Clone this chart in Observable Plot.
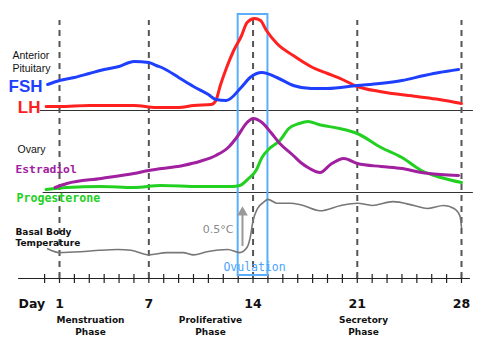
<!DOCTYPE html>
<html><head><meta charset="utf-8">
<script src="https://cdn.jsdelivr.net/npm/d3@7"></script>
<script src="https://cdn.jsdelivr.net/npm/@observablehq/plot@0.6"></script>
<style>body{margin:0;background:#fff} svg{display:block}</style>
</head><body><div id="chart"></div>
<script>
// ---- data (cycle day, relative level) ----
const fshDays   = [0.2,1,2,3,4,5,6,7,7.5,8,9,10,11,11.5,12.2,13.2,13.8,14.6,15.6,16.7,17.9,19,21,22.5,24,25.5,26.5,27.8];
const fshLevels = [26,30,33,37,41,44,49,48,45,42,33,24,16,11,10,23,33,38,33,25,22,22,25,27,30,35,38,41];

const lhDays   = [0.1,1,3,6,7.5,9,10,11.2,11.5,11.8,12.2,12.7,13.2,13.6,14.1,14.5,14.9,15.6,16.7,18,19,20,21,22.5,25,26.5,28];
const lhLevels = [4,4,5,5,3,3,5,6,10,25,42,60,74,88,92,90,80,67,55,43,37,31,24,19,14,11,7];

const e2Days   = [0.7,1.5,3.8,6,7,9.3,10.4,11.5,12.4,12.9,13.6,14,14.6,15.2,15.8,16.7,17.2,17.8,18.5,19.2,20.1,21,22.6,24,25.3,26.6,27.8];
const e2Levels = [5,9,14,19,22,27,31,37,46,55,70,74,70,60,49,37,30,24,20,28,34,29,26,24,20,18,17];

const p4Days   = [0.1,1.5,3.8,6,7.8,10.4,12.6,13.1,13.7,14.2,14.6,15.1,15.8,16.4,17.1,17.7,18.4,19.8,21,22.6,24,25.3,26.6,28];
const p4Levels = [3,5,6,5,7,6,6,7,14,22,35,44,52,64,69,71,68,64,59,45,35,22,15,10];

const bbtDays  = [0.2,1,2.4,3.7,4.9,5.8,7,8.2,9.3,10,10.9,12.3,13.1,13.6,13.8,14,14.3,14.7,15,15.6,16.5,17.2,18.5,19.9,21,22,23.4,24.8,25.7,26.8,27.5,27.9,28];
const bbtTemps = [36.37,36.32,36.33,36.35,36.36,36.35,36.29,36.32,36.32,36.29,36.33,36.36,36.32,36.39,36.51,36.74,36.90,36.98,37.02,36.97,36.97,36.95,36.87,36.94,36.97,36.94,36.99,36.94,36.90,36.94,36.90,36.80,36.65];

const tickDays   = d3.range(0, 29);
const labelDays  = [1, 7, 14, 21, 28];
const phases     = [{day: 3.08, name: "Menstruation"}, {day: 11.14, name: "Proliferative"}, {day: 21.42, name: "Secretory"}];
const ovulation  = {start: 13, end: 15};

// ---- layout (stacked panels on one vertical scale) ----
const base = {pit: 235, ova: 153, axis: 67};
const cycleTop = 325;
const tempRef = 36.4, tempScale = 76, tempBase = 99;
const tY = t => tempBase + (t - tempRef) * tempScale;

const zipS = (days, vals) => days.map((d, i) => ({day: d, v: vals[i]}));
const fsh = zipS(fshDays, fshLevels), lh = zipS(lhDays, lhLevels);
const e2 = zipS(e2Days, e2Levels), p4 = zipS(p4Days, p4Levels);
const bbt = zipS(bbtDays, bbtTemps);

const sans = "Liberation Sans, Arial, sans-serif";
const dv = "DejaVu Sans, sans-serif";
const mono = "DejaVu Sans Mono, monospace";

const chart = Plot.plot({
  width: 480, height: 345,
  marginLeft: 59, marginRight: 19, marginTop: 0, marginBottom: 0,
  x: {domain: [1, 28], axis: null},
  y: {domain: [0, 345], axis: null},
  style: {background: "white", overflow: "visible"},
  marks: [
    Plot.ruleY([{y: base.pit, x1: -0.3, x2: 28.8}, {y: base.ova, x1: -0.1, x2: 28.8}],
      {y: "y", x1: "x1", x2: "x2", stroke: "#333", strokeWidth: 1}),
    Plot.ruleY([base.axis], {x1: -1.75, x2: 28.6, stroke: "#222", strokeWidth: 1.2}),
    Plot.ruleX(tickDays, {x: d => d, y1: base.axis + 4, y2: base.axis - 5, stroke: "#222", strokeWidth: 1.2}),
    Plot.ruleX(labelDays, {x: d => d, y1: base.axis, y2: cycleTop, stroke: "#555", strokeWidth: 2, strokeDasharray: "6,5"}),
    Plot.rect([ovulation], {x1: "start", x2: "end", y1: () => 70, y2: () => 331, fill: "none", stroke: "#5aaefa", strokeWidth: 2}),
    Plot.line(bbt, {x: "day", y: d => tY(d.v), stroke: "#777", strokeWidth: 1.6, curve: "monotone-x"}),
    Plot.ruleX([13.29], {x: d => d, y1: tY(tempRef), y2: tY(tempRef + 0.5) - 6, stroke: "#999", strokeWidth: 2}),
    Plot.dot([13.29], {x: d => d, y: () => tY(tempRef + 0.5) - 4, symbol: "triangle", r: 4, fill: "#999"}),
    Plot.line(p4, {x: "day", y: d => base.ova + d.v, stroke: "#22d022", strokeWidth: 3, curve: "monotone-x"}),
    Plot.line(e2, {x: "day", y: d => base.ova + d.v, stroke: "#a020a0", strokeWidth: 3, curve: "monotone-x"}),
    Plot.line(lh, {x: "day", y: d => base.pit + d.v, stroke: "#ff2020", strokeWidth: 3, curve: "monotone-x"}),
    Plot.line(fsh, {x: "day", y: d => base.pit + d.v, stroke: "#1f3fff", strokeWidth: 3, curve: "monotone-x"}),
    // labels
    Plot.text(["Anterior", "Pituitary"], {x: -2.16, y: (d, i) => 290 - i * 13, text: d => d, textAnchor: "start", fontFamily: sans, fontSize: 10.5, fill: "#111"}),
    Plot.text(["FSH"], {x: -0.14, y: 259, text: d => d, textAnchor: "end", fontFamily: sans, fontSize: 17, fontWeight: "bold", fill: "#1f3fff"}),
    Plot.text(["LH"], {x: -0.28, y: 238, text: d => d, textAnchor: "end", fontFamily: sans, fontSize: 17, fontWeight: "bold", fill: "#ff2020"}),
    Plot.text(["Ovary"], {x: -1.82, y: 196, text: d => d, textAnchor: "start", fontFamily: sans, fontSize: 10.5, fill: "#111"}),
    Plot.text(["Estradiol"], {x: -1.955, y: 176, text: d => d, textAnchor: "start", fontFamily: mono, fontSize: 11.3, fontWeight: "bold", fill: "#a020a0"}),
    Plot.text(["Progesterone"], {x: -1.89, y: 147, text: d => d, textAnchor: "start", fontFamily: mono, fontSize: 11.6, fontWeight: "bold", fill: "#22d022"}),
    Plot.text(["Basal Body", "Temperature"], {x: -1.955, y: (d, i) => 113 - i * 11, text: d => d, textAnchor: "start", fontFamily: dv, fontSize: 9, fontWeight: "bold", fill: "#111"}),
    Plot.text(["0.5°C"], {x: 12.69, y: 116, text: d => d, textAnchor: "end", fontFamily: dv, fontSize: 11, fill: "#8a8a8a"}),
    Plot.text(["Ovulation"], {x: 14.1, y: 78, text: d => d, fontFamily: mono, fontSize: 11.5, fill: "#4aa3ff"}),
    Plot.text(["Day"], {x: -1.75, y: 42, text: d => d, textAnchor: "start", fontFamily: dv, fontSize: 12.5, fontWeight: "bold", fill: "#111"}),
    Plot.text(labelDays, {x: d => d, y: 42, text: d => String(d), fontFamily: dv, fontSize: 12.5, fontWeight: "bold", fill: "#111"}),
    Plot.text(phases, {x: "day", y: 25, text: "name", fontFamily: dv, fontSize: 9, fontWeight: "bold", fill: "#111"}),
    Plot.text(phases, {x: "day", y: 13, text: () => "Phase", fontFamily: dv, fontSize: 9, fontWeight: "bold", fill: "#111"})
  ]
});
document.getElementById("chart").appendChild(chart);
</script>
</body></html>
